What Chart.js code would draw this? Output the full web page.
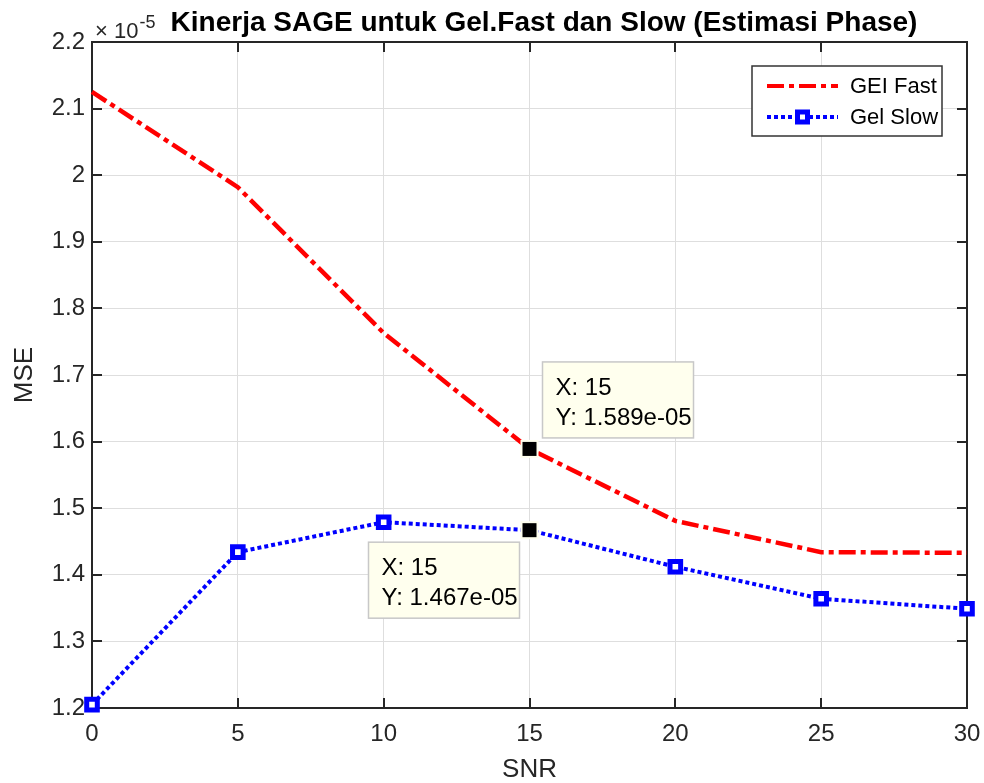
<!DOCTYPE html>
<html><head><meta charset="utf-8">
<script src="https://cdn.jsdelivr.net/npm/chart.js@4/dist/chart.umd.min.js"></script>
<style>html,body{margin:0;padding:0;background:#fff;}#wrap{width:984px;height:783px;}</style>
</head><body><div id="wrap"><canvas id="c" width="984" height="783"></canvas></div>
<script>
// ---- data (MSE values in units of 1e-5) ----
const snr = [0, 5, 10, 15, 20, 25, 30];
const gelFast = [2.125, 1.982, 1.763, 1.589, 1.481, 1.434, 1.433];
const gelSlow = [1.205, 1.434, 1.479, 1.467, 1.412, 1.364, 1.349];
const seriesNames = ['GEI Fast', 'Gel Slow'];
const xTickValues = [0, 5, 10, 15, 20, 25, 30];
const yTickValues = [1.2, 1.3, 1.4, 1.5, 1.6, 1.7, 1.8, 1.9, 2, 2.1, 2.2];
const titleText = 'Kinerja SAGE untuk Gel.Fast dan Slow (Estimasi Phase)';
const xLabel = 'SNR';
const yLabel = 'MSE';
const yExponent = -5;
const datatipIndex = 3; // SNR = 15 on both series

const FONT = '"Liberation Sans", Arial, Helvetica, sans-serif';
const RED = '#FF0000', BLUE = '#0000FF', AX = '#262626';
const FAST_DASH = [17, 5, 5, 5];
const SLOW_DASH = [4, 3];

function fmtExp(v) {
  const s = (v * Math.pow(10, yExponent)).toExponential(3);
  return s.replace(/e([+-])(\d)$/, 'e$10$2');
}

const framePlugin = {
  id: 'frame',
  beforeDatasetsDraw(chart) {
    const { ctx, chartArea: a, scales: { x, y } } = chart;
    ctx.save();
    ctx.strokeStyle = AX; ctx.lineWidth = 2;
    const tl = 10;
    ctx.beginPath();
    x.ticks.forEach(t => {
      const px = Math.round(x.getPixelForValue(t.value));
      ctx.moveTo(px, a.bottom); ctx.lineTo(px, a.bottom - tl);
      ctx.moveTo(px, a.top); ctx.lineTo(px, a.top + tl);
    });
    y.ticks.forEach(t => {
      const py = Math.round(y.getPixelForValue(t.value));
      ctx.moveTo(a.left, py); ctx.lineTo(a.left + tl, py);
      ctx.moveTo(a.right, py); ctx.lineTo(a.right - tl, py);
    });
    ctx.stroke();
    ctx.strokeRect(a.left, a.top, a.right - a.left, a.bottom - a.top);
    ctx.restore();
  },
  afterDraw(chart) {
    const { ctx, chartArea: a, scales: { x, y } } = chart;
    ctx.save();
    // title
    ctx.fillStyle = '#000';
    ctx.font = 'bold 28px ' + FONT;
    ctx.textAlign = 'center'; ctx.textBaseline = 'middle';
    ctx.fillText(titleText, 544, 23);
    // exponent label
    ctx.fillStyle = AX;
    ctx.textAlign = 'left'; ctx.textBaseline = 'alphabetic';
    ctx.font = '22px ' + FONT;
    ctx.fillText('\u00D7 10', a.left + 3, 38);
    const w = ctx.measureText('\u00D7 10').width;
    ctx.font = '18px ' + FONT;
    ctx.fillText(String(yExponent), a.left + 3 + w + 1, 28);

    // legend
    const lx = a.right - 215, ly = a.top + 24, lw = 190, lh = 70;
    ctx.fillStyle = '#fff';
    ctx.fillRect(lx, ly, lw, lh);
    ctx.strokeStyle = '#333'; ctx.lineWidth = 1.5;
    ctx.strokeRect(lx, ly, lw, lh);
    const rows = [ly + 20, ly + 51];
    const s0 = lx + 15, s1 = lx + 86;
    ctx.lineWidth = 4; ctx.lineCap = 'butt';
    ctx.strokeStyle = RED; ctx.setLineDash(FAST_DASH);
    ctx.beginPath(); ctx.moveTo(s0, rows[0]); ctx.lineTo(s1, rows[0]); ctx.stroke();
    ctx.strokeStyle = BLUE; ctx.setLineDash(SLOW_DASH);
    ctx.beginPath(); ctx.moveTo(s0, rows[1]); ctx.lineTo(s1, rows[1]); ctx.stroke();
    ctx.setLineDash([]);
    const mx = (s0 + s1) / 2;
    ctx.fillStyle = '#fff'; ctx.fillRect(mx - 5, rows[1] - 5, 10, 10);
    ctx.lineWidth = 5; ctx.strokeStyle = BLUE; ctx.strokeRect(mx - 5, rows[1] - 5, 10, 10);
    ctx.fillStyle = '#000'; ctx.font = '22px ' + FONT;
    ctx.textAlign = 'left'; ctx.textBaseline = 'middle';
    ctx.fillText(seriesNames[0], lx + 98, rows[0] + 1);
    ctx.fillText(seriesNames[1], lx + 98, rows[1] + 1);

    // datatips
    const tips = [
      { v: gelFast[datatipIndex], dx: 13, dy: -87 },
      { v: gelSlow[datatipIndex], dx: -161, dy: 12 }
    ];
    tips.forEach(t => {
      const px = x.getPixelForValue(snr[datatipIndex]);
      const py = y.getPixelForValue(t.v);
      const bx = px + t.dx, by = py + t.dy, bw = 151, bh = 76;
      ctx.fillStyle = '#FFFFEE';
      ctx.fillRect(bx, by, bw, bh);
      ctx.strokeStyle = '#C8C8C8'; ctx.lineWidth = 1.5;
      ctx.strokeRect(bx, by, bw, bh);
      ctx.fillStyle = '#000'; ctx.font = '24px ' + FONT;
      ctx.textAlign = 'left'; ctx.textBaseline = 'middle';
      ctx.fillText('X: ' + snr[datatipIndex], bx + 13, by + 26);
      ctx.fillText('Y: ' + fmtExp(t.v), bx + 13, by + 56);
      // marker
      ctx.fillStyle = '#FFFFEE';
      ctx.fillRect(px - 9, py - 9, 18, 18);
      ctx.fillStyle = '#000';
      ctx.fillRect(px - 7, py - 7, 14, 14);
    });
    ctx.restore();
  }
};

const ctx = document.getElementById('c').getContext('2d');
new Chart(ctx, {
  type: 'line',
  data: {
    datasets: [
      {
        label: seriesNames[0],
        data: snr.map((s, i) => ({ x: s, y: gelFast[i] })),
        borderColor: RED, backgroundColor: RED,
        borderWidth: 4.5, borderDash: FAST_DASH, borderCapStyle: 'butt',
        pointRadius: 0, pointHoverRadius: 0, tension: 0, fill: false, clip: false
      },
      {
        label: seriesNames[1],
        data: snr.map((s, i) => ({ x: s, y: gelSlow[i] })),
        borderColor: BLUE, backgroundColor: BLUE,
        borderWidth: 4, borderDash: SLOW_DASH, borderCapStyle: 'butt',
        pointStyle: 'rect', pointRadius: 7.5, pointBorderWidth: 5,
        pointBackgroundColor: '#FFFFFF', pointBorderColor: BLUE,
        pointHoverRadius: 7.5, tension: 0, fill: false, clip: false
      }
    ]
  },
  options: {
    responsive: false, animation: false, devicePixelRatio: 1,
    layout: { padding: { left: 0, right: 17, top: 42, bottom: 0 } },
    plugins: { legend: { display: false }, title: { display: false }, tooltip: { enabled: false } },
    events: [],
    scales: {
      x: {
        type: 'linear', min: 0, max: 30,
        afterBuildTicks(s) { s.ticks = xTickValues.map(v => ({ value: v })); },
        afterFit(s) { s.height = 75; s.paddingLeft = 0; s.paddingRight = 0; },
        grid: { color: '#DEDEDE', lineWidth: 1, drawTicks: false },
        border: { display: false },
        ticks: { autoSkip: false, maxRotation: 0, padding: 12, color: AX,
          font: { family: FONT, size: 24 }, callback: v => String(v) },
        title: { display: true, text: xLabel, color: AX, padding: { top: 0, bottom: 0 },
          font: { family: FONT, size: 26, lineHeight: 1 } }
      },
      y: {
        type: 'linear', min: 1.2, max: 2.2,
        afterBuildTicks(s) { s.ticks = yTickValues.map(v => ({ value: v })); },
        afterFit(s) { s.width = 92; s.paddingTop = 0; s.paddingBottom = 0; },
        grid: { color: '#DEDEDE', lineWidth: 1, drawTicks: false },
        border: { display: false },
        ticks: { autoSkip: false, padding: 7, color: AX,
          font: { family: FONT, size: 24 }, callback: v => String(parseFloat(v.toFixed(2))) },
        title: { display: true, text: yLabel, color: AX, padding: { top: 9, bottom: 0 },
          font: { family: FONT, size: 26 } }
      }
    }
  },
  plugins: [framePlugin]
});
</script>
</body></html>
